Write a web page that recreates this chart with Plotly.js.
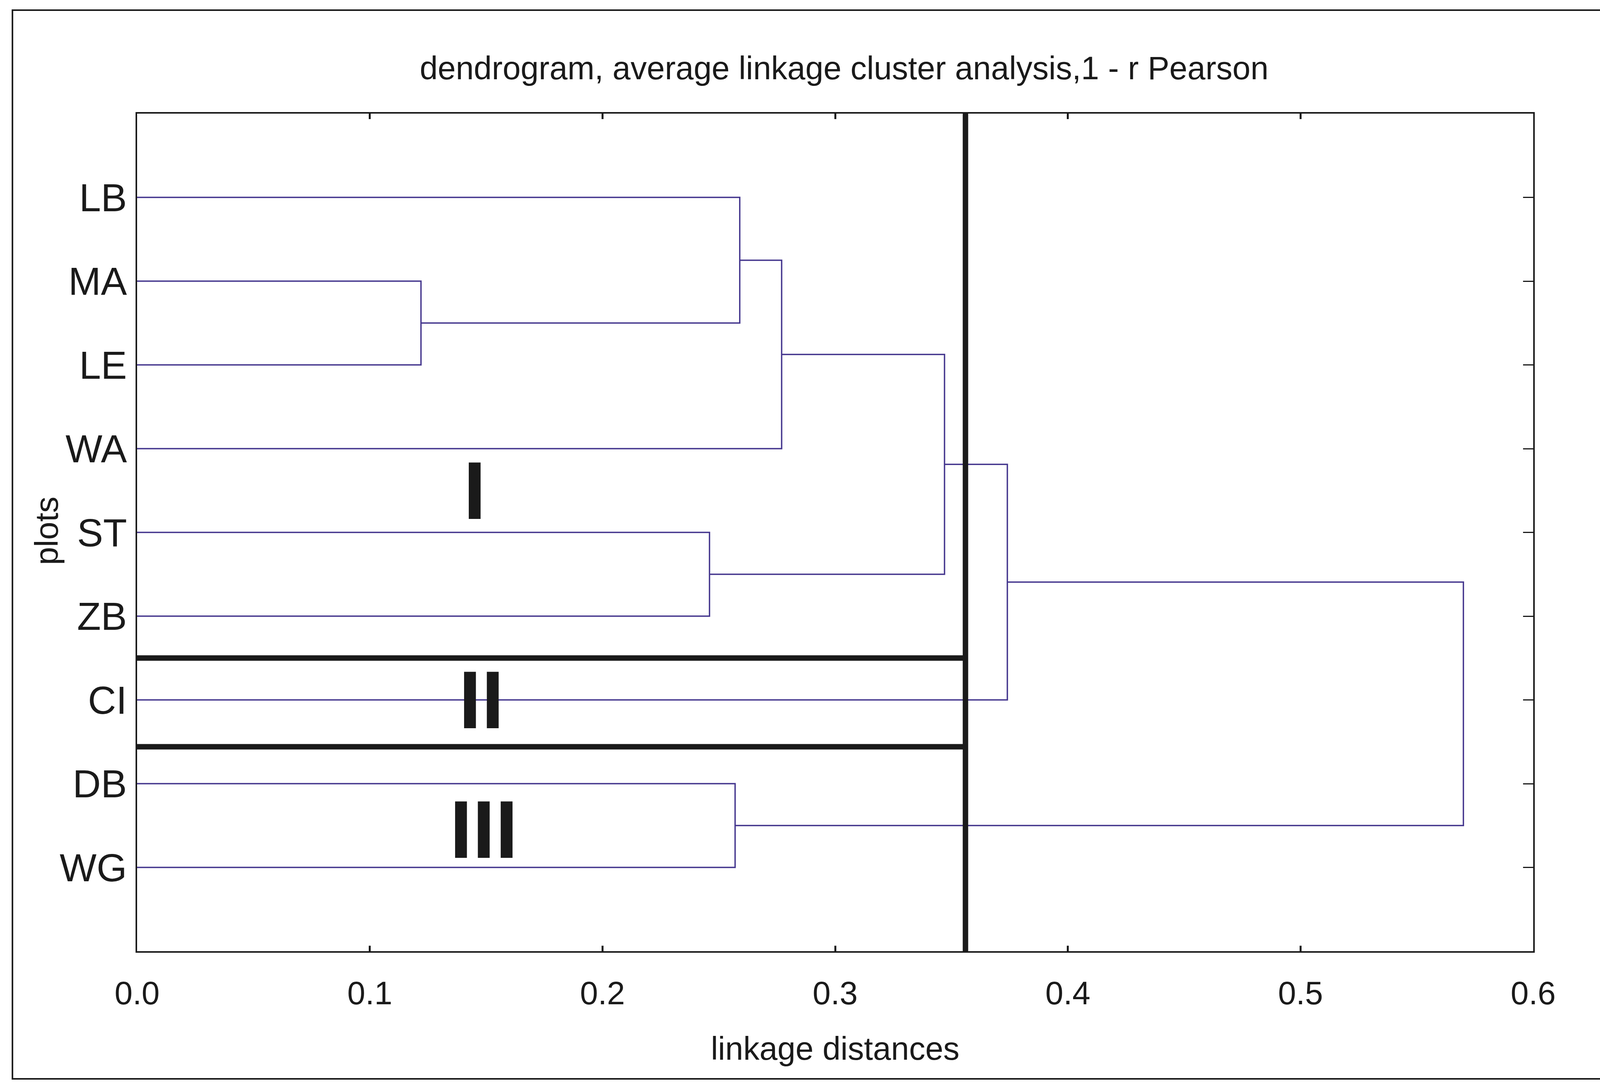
<!DOCTYPE html>
<html>
<head>
<meta charset="utf-8">
<script src="https://cdn.plot.ly/plotly-3.0.1.min.js"></script>
<style>html,body{margin:0;padding:0;background:#fff;}#chart{width:4142px;height:2789px;}</style>
</head>
<body>
<div id="chart"></div>
<script>
// ---- data ----
const leaves = ['LB', 'MA', 'LE', 'WA', 'ST', 'ZB', 'CI', 'DB', 'WG'];
// merge table: indexes of joined nodes (leaves 0..8, merged clusters 9..)
const mergeLeft = [1, 0, 10, 4, 11, 13, 7, 14];
const mergeRight = [2, 9, 3, 5, 12, 6, 8, 15];
const mergeHeight = [0.122, 0.259, 0.277, 0.246, 0.347, 0.374, 0.257, 0.570];
const cutDistance = 0.356;
const groupBoundaries = [6.5, 7.56];
const groupLabels = ['I', 'II', 'III'];
const xTicks = [0, 0.1, 0.2, 0.3, 0.4, 0.5, 0.6];

// ---- build dendrogram geometry from the merge table ----
const nodeX = leaves.map(() => 0);
const nodeY = leaves.map((_, i) => i + 1);
const dx = [], dy = [];
for (let k = 0; k < mergeHeight.length; k++) {
  const a = mergeLeft[k], b = mergeRight[k], h = mergeHeight[k];
  dx.push(nodeX[a], h, h, nodeX[b], null);
  dy.push(nodeY[a], nodeY[a], nodeY[b], nodeY[b], null);
  nodeX.push(h);
  nodeY.push((nodeY[a] + nodeY[b]) / 2);
}
const leafPos = leaves.map((_, i) => i + 1);
const yMax = leaves.length + 1;

const FONT = 'Liberation Sans, Arial, Helvetica, sans-serif';
const INK = '#1a1a1a';
const PURPLE = '#45378e';

const bx = [], by = [];
groupBoundaries.forEach(g => { bx.push(0, cutDistance, null); by.push(g, g, null); });

const traces = [
  {x: dx, y: dy, type: 'scatter', mode: 'lines', line: {color: PURPLE, width: 3.5},
   hoverinfo: 'skip', showlegend: false},
  {x: bx, y: by, type: 'scatter', mode: 'lines', line: {color: INK, width: 14},
   hoverinfo: 'skip', showlegend: false},
  {x: [cutDistance, cutDistance], y: [0, yMax], yaxis: 'y2', type: 'scatter', mode: 'lines',
   line: {color: INK, width: 14}, hoverinfo: 'skip', showlegend: false}
];

const labelSpots = [[0.145, 4.5], [0.148, 7.0], [0.149, 8.55]];
const annotations = groupLabels.map((t, i) => ({
  x: labelSpots[i][0], y: labelSpots[i][1], xref: 'x', yref: 'y', text: t, showarrow: false,
  xanchor: 'center', yanchor: 'middle',
  font: {family: FONT, size: 210, color: INK, weight: 700}
}));
annotations.push({
  x: -0.0649, y: 0.5016, xref: 'paper', yref: 'paper', text: 'plots', showarrow: false,
  textangle: -90, xanchor: 'center', yanchor: 'middle',
  font: {family: FONT, size: 83, color: INK}
});

const layout = {
  width: 4142, height: 2789,
  paper_bgcolor: '#ffffff', plot_bgcolor: '#ffffff',
  margin: {l: 351, r: 217, t: 291, b: 353, autoexpand: false},
  font: {family: FONT, color: INK},
  title: {text: 'dendrogram, average linkage cluster analysis,1 - r Pearson',
          font: {family: FONT, size: 83, color: INK},
          xref: 'container', yref: 'container', x: 0.5217, y: 0.9376,
          xanchor: 'center', yanchor: 'middle'},
  xaxis: {range: [0, 0.6], tickvals: xTicks, tickformat: '.1f',
          ticks: 'inside', ticklen: 14, tickwidth: 5, tickcolor: INK,
          showline: true, linecolor: INK, linewidth: 4, mirror: 'ticks',
          showgrid: false, zeroline: false, automargin: false,
          tickfont: {family: FONT, size: 83, color: INK}, ticklabelstandoff: 32,
          title: {text: 'linkage distances', font: {family: FONT, size: 83, color: INK}, standoff: 68}},
  yaxis: {range: [yMax, 0], tickvals: leafPos, ticktext: leaves,
          ticks: '', showline: true, linecolor: INK, linewidth: 4, mirror: true,
          showgrid: false, zeroline: false, automargin: false,
          tickfont: {family: FONT, size: 100, color: INK}, ticklabelstandoff: 2},
  yaxis2: {range: [yMax, 0], overlaying: 'y', side: 'right', tickvals: leafPos,
           ticks: 'inside', ticklen: 26, tickwidth: 3, tickcolor: INK,
           showticklabels: false, showline: false, showgrid: false, zeroline: false},
  shapes: [{type: 'rect', xref: 'paper', yref: 'paper',
            x0: -0.0893, x1: 1.0518, y0: -0.1524, y1: 1.1235,
            line: {color: INK, width: 4}, fillcolor: 'rgba(0,0,0,0)', layer: 'below'}],
  annotations: annotations,
  showlegend: false
};

Plotly.newPlot('chart', traces, layout, {staticPlot: true, displayModeBar: false});
</script>
</body>
</html>
